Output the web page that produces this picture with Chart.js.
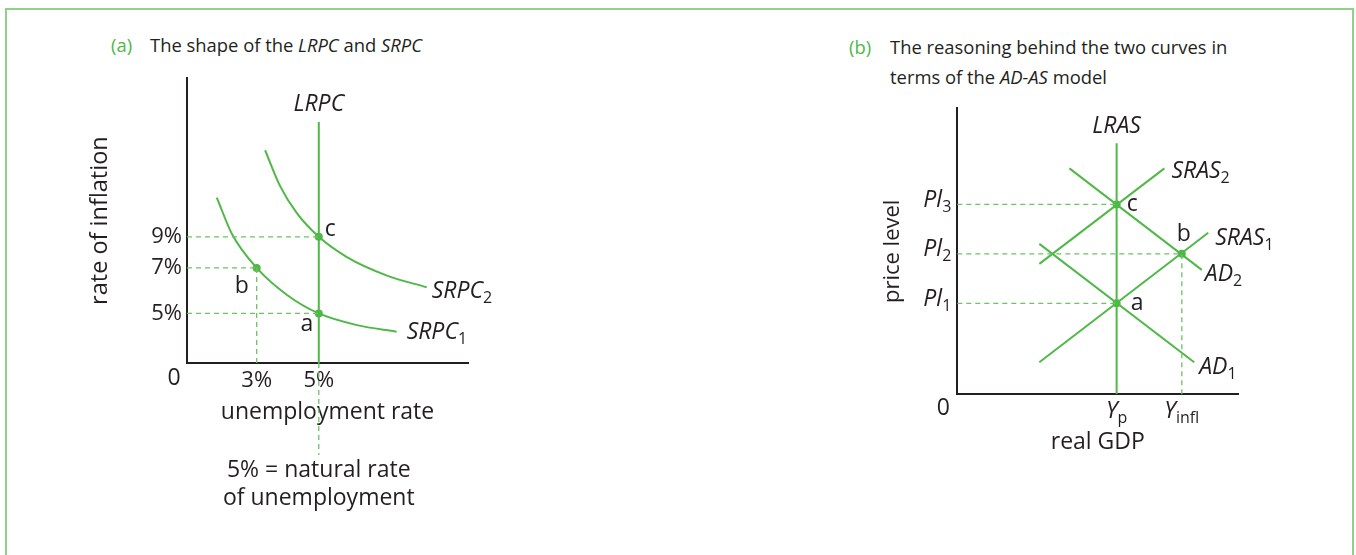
<!DOCTYPE html>
<html>
<head>
<meta charset="utf-8">
<script src="https://cdn.jsdelivr.net/npm/chart.js@4.4.1/dist/chart.umd.min.js"></script>
<style>
  body { margin: 0; background: #fff; font-family: 'Open Sans', sans-serif; }
  #page { position: relative; width: 1356px; height: 555px; overflow: hidden; }
  #frame { position: absolute; left: 5px; top: 8px; width: 1345px; height: 600px; border: 2px solid #8fd08a; }
  .tag { position: absolute; font-size: 18.4px; line-height: 30px; color: #4cb848; }
  .title { position: absolute; font-size: 18.4px; line-height: 30px; color: #231f20; }
  canvas { position: absolute; }
</style>
</head>
<body>
<div id="page">
  <div id="frame"></div>
  <div class="tag" style="left:111px; top:30px">(a)</div>
  <div class="title" style="left:150px; top:30px">The shape of the <i>LRPC</i> and <i>SRPC</i></div>
  <div class="tag" style="left:849px; top:32px">(b)</div>
  <div class="title" style="left:890px; top:32px">The reasoning behind the two curves in<br>terms of the <i>AD-AS</i> model</div>
  <canvas id="phillips" width="500" height="480" style="left:60px; top:60px"></canvas>
  <canvas id="adas" width="500" height="400" style="left:830px; top:90px"></canvas>
</div>
<script>
// (a) schematic units 0-100 on both axes
const unempTickValues = [24.8, 46.9];
const unempTickLabels = ['3%', '5%'];
const inflTickValues = [17.4, 33.4, 44.3];
const inflTickLabels = ['5%', '7%', '9%'];

const srpc1X = [10.6, 16.0, 24.8, 35.6, 46.9, 60.5, 74.6];
const srpc1Y = [58.1, 45.3, 33.4, 23.9, 17.4, 13.3, 11.0];
const srpc2X = [27.8, 33.1, 39.1, 46.9, 56.9, 71.2, 85.3];
const srpc2Y = [74.7, 62.2, 52.6, 44.3, 37.2, 30.7, 26.6];
const lrpcX = 46.9;
const lrpcTop = 84.6;
const lrpcBelow = -32.3;   // dashed drop to the note
const phillipsPoints = [
  { name: 'a', x: 46.9, y: 17.4 },
  { name: 'b', x: 24.8, y: 33.4 },
  { name: 'c', x: 46.9, y: 44.3 }
];

// (b) schematic units 0-100 on both axes
const gdpTickValues = [56.7, 79.9];
const gdpTickLabels = [['Y', 'p'], ['Y', 'infl']];
const priceTickValues = [31.8, 49.1, 66.4];
const priceTickLabels = [['Pl', '1'], ['Pl', '2'], ['Pl', '3']];

const lrasX = 56.7;
const lrasTop = 87.8;
const sras1 = [[29.2, 11.2], [89.3, 56.5]];
const sras2 = [[29.2, 45.6], [73.7, 79.0]];
const ad1 = [[29.2, 52.6], [84.3, 11.2]];
const ad2 = [[39.9, 79.0], [87.0, 43.5]];
const adasPoints = [
  { name: 'a', x: 56.7, y: 31.8 },
  { name: 'b', x: 79.9, y: 49.1 },
  { name: 'c', x: 56.7, y: 66.4 }
];

const green = '#4fb847';
const dashGreen = '#6cc463';
const ink = '#231f20';
const fam = "'Open Sans', sans-serif";

Chart.defaults.font.family = fam;
Chart.defaults.color = ink;

function xy(xs, ys) { return xs.map((x, i) => ({ x: x, y: ys[i] })); }
function pairs(p) { return p.map(v => ({ x: v[0], y: v[1] })); }

function solid(data) {
  return { type: 'line', data: data, borderColor: green, borderWidth: 2, pointRadius: 0, fill: false };
}
function dashed(data) {
  return { type: 'line', data: data, borderColor: dashGreen, borderWidth: 1.3, borderDash: [5, 4], pointRadius: 0, fill: false, clip: false };
}
function dots(pts) {
  return { type: 'scatter', data: pts.map(p => ({ x: p.x, y: p.y })), pointRadius: 4, pointBackgroundColor: green, pointBorderWidth: 0 };
}

function fontFor(p) {
  return (p.i ? 'italic ' : '') + (p.sub ? 16 : 23) + 'px ' + fam;
}
function drawRich(ctx, parts, x, y, align) {
  let w = 0;
  parts.forEach(p => { ctx.font = fontFor(p); w += ctx.measureText(p.t).width; });
  let cx = align === 'center' ? x - w / 2 : align === 'right' ? x - w : x;
  parts.forEach(p => {
    ctx.font = fontFor(p);
    ctx.fillText(p.t, cx, p.sub ? y + 7 : y);
    cx += ctx.measureText(p.t).width;
  });
}

const notes = {
  id: 'notes',
  afterDatasetsDraw(chart, args, opts) {
    const ctx = chart.ctx, sx = chart.scales.x, sy = chart.scales.y;
    ctx.save();
    ctx.textBaseline = 'middle';
    ctx.textAlign = 'left';
    ctx.fillStyle = ink;
    opts.items.forEach(n => {
      drawRich(ctx, n.parts, sx.getPixelForValue(n.x) + (n.dx || 0), sy.getPixelForValue(n.y) + (n.dy || 0), n.align || 'left');
    });
    ctx.restore();
  }
};

function axis(min, max, extra) {
  return Object.assign({
    type: 'linear', min: min, max: max,
    grid: { display: false, drawTicks: false },
    border: { display: true, color: ink, width: 2 }
  }, extra);
}

function pt(list, name) { return list.find(p => p.name === name); }

// ---------- (a) ----------
const pa = pt(phillipsPoints, 'a'), pb = pt(phillipsPoints, 'b'), pc = pt(phillipsPoints, 'c');

new Chart(document.getElementById('phillips'), {
  type: 'line',
  data: {
    datasets: [
      dashed([{ x: 0, y: pc.y }, { x: pc.x, y: pc.y }]),
      dashed([{ x: 0, y: pb.y }, { x: pb.x, y: pb.y }]),
      dashed([{ x: 0, y: pa.y }, { x: pa.x, y: pa.y }]),
      dashed([{ x: pb.x, y: 0 }, { x: pb.x, y: pb.y }]),
      dashed([{ x: lrpcX, y: 0 }, { x: lrpcX, y: lrpcBelow }]),
      solid([{ x: lrpcX, y: 0 }, { x: lrpcX, y: lrpcTop }]),
      Object.assign(solid(xy(srpc1X, srpc1Y)), { cubicInterpolationMode: 'monotone' }),
      Object.assign(solid(xy(srpc2X, srpc2Y)), { cubicInterpolationMode: 'monotone' }),
      dots(phillipsPoints)
    ]
  },
  options: {
    responsive: false,
    animation: false,
    events: [],
    layout: { padding: { left: 0, top: 18, right: 92, bottom: 0 } },
    scales: {
      x: axis(0, 100, {
        afterBuildTicks: s => { s.ticks = unempTickValues.map(v => ({ value: v })); },
        afterFit: s => { s.height = 177; },
        ticks: { autoSkip: false, maxRotation: 0, padding: 5, font: { size: 22 }, callback: (v, i) => unempTickLabels[i] },
        title: { display: true, text: 'unemployment rate', font: { size: 23 }, padding: { top: 0, bottom: 114 } }
      }),
      y: axis(0, 100, {
        afterBuildTicks: s => { s.ticks = inflTickValues.map(v => ({ value: v })); },
        afterFit: s => { s.width = 127; },
        ticks: { autoSkip: false, padding: 5, font: { size: 22 }, callback: (v, i) => inflTickLabels[i] },
        title: { display: true, text: 'rate of inflation', font: { size: 23.5 }, padding: { top: 26, bottom: 0 } }
      })
    },
    plugins: {
      legend: { display: false },
      tooltip: { enabled: false },
      notes: {
        items: [
          { x: lrpcX, y: lrpcTop, dy: -18, align: 'center', parts: [{ t: 'LRPC', i: 1 }] },
          { x: pc.x, y: pc.y, dx: 6, dy: -7, parts: [{ t: 'c' }] },
          { x: pb.x, y: pb.y, dx: -15, dy: 19, align: 'center', parts: [{ t: 'b' }] },
          { x: pa.x, y: pa.y, dx: -12, dy: 11, align: 'center', parts: [{ t: 'a' }] },
          { x: srpc2X[srpc2X.length - 1], y: srpc2Y[srpc2Y.length - 1], dx: 5, dy: 4, parts: [{ t: 'SRPC', i: 1 }, { t: '2', sub: 1 }] },
          { x: srpc1X[srpc1X.length - 1], y: srpc1Y[srpc1Y.length - 1], dx: 10, dy: 1, parts: [{ t: 'SRPC', i: 1 }, { t: '1', sub: 1 }] },
          { x: 0, y: 0, dx: -13, dy: 15, align: 'center', parts: [{ t: '0' }] },
          { x: lrpcX, y: lrpcBelow, dy: 15, align: 'center', parts: [{ t: '5% = natural rate' }] },
          { x: lrpcX, y: lrpcBelow, dy: 43, align: 'center', parts: [{ t: 'of unemployment' }] }
        ]
      }
    }
  },
  plugins: [notes]
});

// ---------- (b) ----------
const qa = pt(adasPoints, 'a'), qb = pt(adasPoints, 'b'), qc = pt(adasPoints, 'c');

const adasNotes = [
  { x: lrasX, y: lrasTop, dy: -17, align: 'center', parts: [{ t: 'LRAS', i: 1 }] },
  { x: qc.x, y: qc.y, dx: 10, dy: 0, parts: [{ t: 'c' }] },
  { x: qb.x, y: qb.y, dx: 2, dy: -19, align: 'center', parts: [{ t: 'b' }] },
  { x: qa.x, y: qa.y, dx: 14, dy: 0, parts: [{ t: 'a' }] },
  { x: sras2[1][0], y: sras2[1][1], dx: 7, dy: 3, parts: [{ t: 'SRAS', i: 1 }, { t: '2', sub: 1 }] },
  { x: sras1[1][0], y: sras1[1][1], dx: 7, dy: 6, parts: [{ t: 'SRAS', i: 1 }, { t: '1', sub: 1 }] },
  { x: ad2[1][0], y: ad2[1][1], dx: 3, dy: 5, parts: [{ t: 'AD', i: 1 }, { t: '2', sub: 1 }] },
  { x: ad1[1][0], y: ad1[1][1], dx: 5, dy: 5, parts: [{ t: 'AD', i: 1 }, { t: '1', sub: 1 }] },
  { x: 0, y: 0, dx: -14, dy: 14, align: 'center', parts: [{ t: '0' }] }
];
priceTickValues.forEach((v, i) => {
  adasNotes.push({ x: 0, y: v, dx: -6, dy: -4, align: 'right', parts: [{ t: priceTickLabels[i][0], i: 1 }, { t: priceTickLabels[i][1], sub: 1 }] });
});
gdpTickValues.forEach((v, i) => {
  adasNotes.push({ x: v, y: 0, dy: 17, align: 'center', parts: [{ t: gdpTickLabels[i][0], i: 1 }, { t: gdpTickLabels[i][1], sub: 1 }] });
});

new Chart(document.getElementById('adas'), {
  type: 'line',
  data: {
    datasets: [
      dashed([{ x: 0, y: qc.y }, { x: qc.x, y: qc.y }]),
      dashed([{ x: 0, y: qb.y }, { x: qb.x, y: qb.y }]),
      dashed([{ x: 0, y: qa.y }, { x: qa.x, y: qa.y }]),
      dashed([{ x: qb.x, y: 0 }, { x: qb.x, y: qb.y }]),
      solid([{ x: lrasX, y: 0 }, { x: lrasX, y: lrasTop }]),
      solid(pairs(sras1)),
      solid(pairs(sras2)),
      solid(pairs(ad1)),
      solid(pairs(ad2)),
      dots(adasPoints)
    ]
  },
  options: {
    responsive: false,
    animation: false,
    events: [],
    layout: { padding: { left: 0, top: 18.3, right: 91.7, bottom: 0 } },
    scales: {
      x: axis(0, 100, {
        afterFit: s => { s.height = 95.7; },
        ticks: { display: false },
        title: { display: true, text: 'real GDP', font: { size: 23 }, padding: { top: 0, bottom: 34 } }
      }),
      y: axis(0, 100, {
        afterFit: s => { s.width = 127.3; },
        ticks: { display: false },
        title: { display: true, text: 'price level', font: { size: 22 }, padding: { top: 50, bottom: 0 } }
      })
    },
    plugins: {
      legend: { display: false },
      tooltip: { enabled: false },
      notes: { items: adasNotes }
    }
  },
  plugins: [notes]
});
</script>
</body>
</html>
